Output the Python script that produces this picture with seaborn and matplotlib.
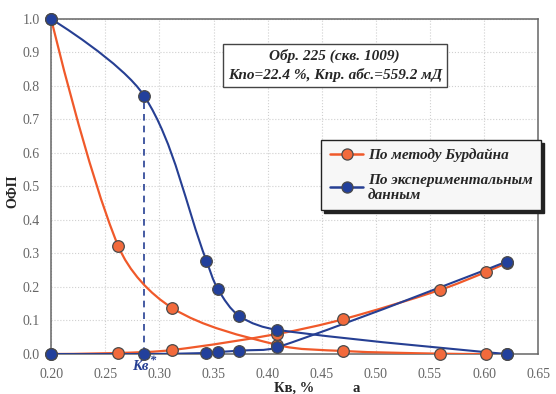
import numpy as np
import pandas as pd
import seaborn as sns
import matplotlib.pyplot as plt
from matplotlib.path import Path
from matplotlib.patches import PathPatch
from matplotlib.lines import Line2D

# values
burd_x_oil = [0.20, 0.262, 0.312, 0.409, 0.470, 0.559, 0.602, 0.621]
burd_oil = [1.00, 0.322, 0.137, 0.027, 0.009, 0.001, 0.000, 0.000]
burd_x_wat = [0.20, 0.262, 0.312, 0.409, 0.470, 0.559, 0.602, 0.621]
burd_wat = [0.000, 0.003, 0.012, 0.060, 0.104, 0.191, 0.245, 0.272]

exp_x = [0.20, 0.286, 0.3435, 0.354, 0.374, 0.409, 0.621]
exp_oil = [1.00, 0.770, 0.278, 0.194, 0.113, 0.072, 0.000]
exp_wat = [0.000, 0.000, 0.003, 0.006, 0.010, 0.020, 0.276]

lbl_burd = "По методу Бурдайна"
lbl_exp = "По экспериментальным\nданным"
note = "Обр. 225 (скв. 1009)\nКпо=22.4 %, Кпр. абс.=559.2 мД"

orange = "#F0592A"
orange_face = "#F26A3C"
blue = "#263F93"
blue_face = "#22409C"


def smooth(ax, xs, ys):
    # smoothed line through the points, tangents scaled by chord length on screen
    d = ax.transData.transform(np.column_stack([xs, ys]))
    n = len(d)
    seg = np.hypot(*np.diff(d, axis=0).T)
    tan = np.zeros_like(d)
    for i in range(1, n - 1):
        tan[i] = (d[i + 1] - d[i - 1]) / (seg[i - 1] + seg[i])
    verts = [d[0]]
    codes = [Path.MOVETO]
    for i in range(n - 1):
        k = seg[i] / 3
        verts += [d[i] + tan[i] * k, d[i + 1] - tan[i + 1] * k, d[i + 1]]
        codes += [Path.CURVE4] * 3
    verts = ax.transData.inverted().transform(np.array(verts))
    return Path(verts, codes)


sns.set_style("white")
plt.rcParams['font.family'] = ['Liberation Serif', 'DejaVu Serif']

fig, ax = plt.subplots(figsize=(5.56, 3.94), dpi=100)
fig.subplots_adjust(left=0.092, right=0.968, top=0.952, bottom=0.1015)

ax.set_xlim(0.20, 0.65)
ax.set_ylim(0.0, 1.0)
ax.set_xticks(np.arange(0.20, 0.651, 0.05))
ax.set_yticks(np.arange(0.0, 1.01, 0.1))
ax.xaxis.set_major_formatter(plt.FormatStrFormatter('%.2f'))
ax.yaxis.set_major_formatter(plt.FormatStrFormatter('%.1f'))
ax.grid(True, color='#d0d0d0', linestyle=':', linewidth=0.8)
ax.tick_params(length=0, labelsize=10, labelcolor='#666666')
ax.tick_params(axis='x', pad=10)
ax.tick_params(axis='y', pad=8)
for s in ax.spines.values():
    s.set_color('#666666')
    s.set_linewidth(1.1)

# Kv* marker line
ax.plot([exp_x[1], exp_x[1]], [0, exp_oil[1]], color=blue, lw=1.2,
        dashes=(4, 3), zorder=2)

for xs, ys, c, lw in [(burd_x_oil, burd_oil, orange, 1.6),
                      (burd_x_wat, burd_wat, orange, 1.6),
                      (exp_x, exp_oil, blue, 1.5),
                      (exp_x, exp_wat, blue, 1.5)]:
    ax.add_patch(PathPatch(smooth(ax, xs, ys), fc='none', ec=c, lw=lw,
                           zorder=3, capstyle='round'))

burd = pd.DataFrame({'x': burd_x_oil + burd_x_wat, 'y': burd_oil + burd_wat})
exp = pd.DataFrame({'x': exp_x + exp_x, 'y': exp_oil + exp_wat})
sns.scatterplot(data=burd, x='x', y='y', ax=ax, s=70, color=orange_face,
                edgecolor='#4a4a4a', linewidth=0.9, zorder=4, clip_on=False)
sns.scatterplot(data=exp, x='x', y='y', ax=ax, s=70, color=blue_face,
                edgecolor='#4a4a4a', linewidth=0.9, zorder=5, clip_on=False)
ax.set_xlabel('')
ax.set_ylabel('')

ax.annotate("Кв", xy=(exp_x[1], 0), xycoords='data', xytext=(-4, -12),
            textcoords='offset pixels', ha='center', va='center',
            color=blue, fontsize=10.5, fontweight='bold', fontstyle='italic')
ax.annotate("*", xy=(exp_x[1], 0), xycoords='data', xytext=(9, -7),
            textcoords='offset pixels', ha='center', va='center',
            color=blue, fontsize=9, fontweight='bold', fontstyle='italic')

ax.text(0.462, 0.86, note, ha='center', va='center', fontsize=11,
        fontweight='bold', fontstyle='italic', linespacing=1.45,
        bbox=dict(boxstyle='square,pad=0.33', fc='white', ec='#444444', lw=1.0),
        zorder=6)

handles = [
    Line2D([], [], color=orange, lw=1.8, marker='o', ms=8,
           mfc=orange_face, mec='#4a4a4a', mew=0.9),
    Line2D([], [], color=blue, lw=1.8, marker='o', ms=8,
           mfc=blue_face, mec='#4a4a4a', mew=0.9),
]
leg = fig.legend(handles, [lbl_burd, lbl_exp], loc='upper left',
                 bbox_to_anchor=(0.578, 0.645), frameon=True, fancybox=False,
                 shadow={'color': '#222222', 'alpha': 1.0},
                 prop={'weight': 'bold', 'style': 'italic', 'size': 11},
                 handlelength=2.2, handletextpad=0.3, labelspacing=0.75,
                 borderpad=0.55, borderaxespad=0)
leg.get_frame().set_edgecolor('#222222')
leg.get_frame().set_linewidth(1.0)
leg.get_frame().set_facecolor('#f7f7f7')

fig.text(294 / 556, 1 - 388 / 394, "Кв, %", ha='center', va='center',
         fontsize=10.5, fontweight='bold')
fig.text(356 / 556, 1 - 389 / 394, "а", ha='center', va='center',
         fontsize=10.5, fontweight='bold')
fig.text(0.024, 0.515, "ОФП", ha='center', va='center', rotation=90,
         fontsize=10, fontweight='bold')

fig.savefig('out.png', dpi=100)
